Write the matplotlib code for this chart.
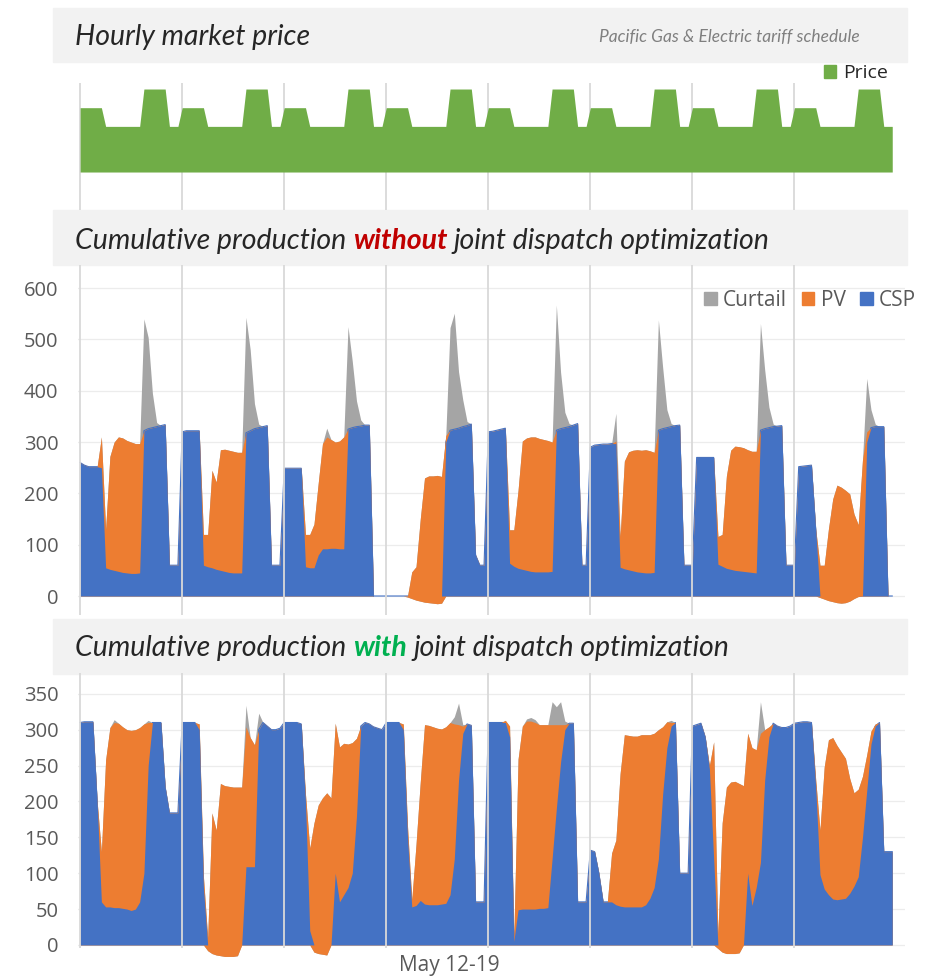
import numpy as np
import matplotlib.pyplot as plt
from matplotlib.patches import Patch, Rectangle

W, H = 931, 976

# hourly tariff, 8 days x 24 h ($/kWh)
PRICE = [
    0.31, 0.31, 0.31, 0.31, 0.31, 0.31, 0.22, 0.22, 0.22, 0.22, 0.22, 0.22, 0.22, 0.22, 0.22, 0.40, 0.40, 0.40, 0.40, 0.40, 0.40, 0.22, 0.22, 0.22,
    0.31, 0.31, 0.31, 0.31, 0.31, 0.31, 0.22, 0.22, 0.22, 0.22, 0.22, 0.22, 0.22, 0.22, 0.22, 0.40, 0.40, 0.40, 0.40, 0.40, 0.40, 0.22, 0.22, 0.22,
    0.31, 0.31, 0.31, 0.31, 0.31, 0.31, 0.22, 0.22, 0.22, 0.22, 0.22, 0.22, 0.22, 0.22, 0.22, 0.40, 0.40, 0.40, 0.40, 0.40, 0.40, 0.22, 0.22, 0.22,
    0.31, 0.31, 0.31, 0.31, 0.31, 0.31, 0.22, 0.22, 0.22, 0.22, 0.22, 0.22, 0.22, 0.22, 0.22, 0.40, 0.40, 0.40, 0.40, 0.40, 0.40, 0.22, 0.22, 0.22,
    0.31, 0.31, 0.31, 0.31, 0.31, 0.31, 0.22, 0.22, 0.22, 0.22, 0.22, 0.22, 0.22, 0.22, 0.22, 0.40, 0.40, 0.40, 0.40, 0.40, 0.40, 0.22, 0.22, 0.22,
    0.31, 0.31, 0.31, 0.31, 0.31, 0.31, 0.22, 0.22, 0.22, 0.22, 0.22, 0.22, 0.22, 0.22, 0.22, 0.40, 0.40, 0.40, 0.40, 0.40, 0.40, 0.22, 0.22, 0.22,
    0.31, 0.31, 0.31, 0.31, 0.31, 0.31, 0.22, 0.22, 0.22, 0.22, 0.22, 0.22, 0.22, 0.22, 0.22, 0.40, 0.40, 0.40, 0.40, 0.40, 0.40, 0.22, 0.22, 0.22,
    0.31, 0.31, 0.31, 0.31, 0.31, 0.31, 0.22, 0.22, 0.22, 0.22, 0.22, 0.22, 0.22, 0.22, 0.22, 0.40, 0.40, 0.40, 0.40, 0.40, 0.40, 0.22, 0.22, 0.22,
]

# without joint dispatch optimization (MW)
CSP_WO = [
    260, 255, 252, 252, 252, 250, 55, 52, 50, 48, 46, 45, 44, 44, 45, 322, 326, 328, 330, 332, 334, 60, 60, 60,
    320, 322, 322, 322, 322, 60, 57, 55, 52, 50, 48, 46, 45, 45, 45, 318, 322, 326, 328, 330, 332, 60, 60, 60,
    249, 249, 249, 249, 249, 57, 55, 55, 80, 92, 92, 93, 93, 92, 92, 325, 328, 330, 331, 333, 333, 0, 0, 0,
    0, 0, 0, 0, 0, -2, -5, -8, -10, -12, -13, -14, -15, -14, 300, 323, 325, 327, 330, 332, 335, 80, 60, 60,
    320, 321, 323, 325, 327, 64, 58, 54, 52, 50, 48, 47, 47, 47, 47, 48, 323, 326, 328, 330, 333, 336, 60, 60,
    290, 294, 295, 296, 296, 297, 297, 56, 53, 51, 49, 47, 46, 45, 45, 46, 323, 326, 328, 330, 332, 333, 60, 60,
    60, 270, 270, 270, 270, 270, 62, 58, 54, 52, 50, 49, 48, 47, 46, 45, 323, 326, 328, 330, 331, 332, 60, 60,
    60, 252, 253, 254, 255, 130, -3, -6, -9, -11, -13, -14, -13, -10, -5, -1, 0, 300, 328, 330, 330, 330, 0, 0,
]
PV_WO = [
    0, 0, 0, 0, 0, 60, 75, 220, 250, 262, 262, 258, 256, 253, 252, 0, 0, 0, 0, 0, 0, 0, 0, 0,
    0, 0, 0, 0, 0, 60, 63, 190, 170, 235, 238, 238, 237, 235, 235, 0, 0, 0, 0, 0, 0, 0, 0, 0,
    0, 0, 0, 0, 0, 63, 65, 85, 140, 205, 218, 212, 207, 210, 218, 0, 0, 0, 0, 0, 0, 0, 0, 0,
    0, 0, 0, 0, 0, 2, 52, 65, 160, 242, 247, 248, 250, 247, 13, 0, 0, 0, 0, 0, 0, 0, 0, 0,
    0, 0, 0, 0, 0, 65, 71, 152, 250, 258, 262, 263, 260, 258, 256, 252, 0, 0, 0, 0, 0, 0, 0, 0,
    0, 0, 0, 0, 0, 0, 5, 60, 210, 230, 235, 238, 238, 240, 238, 234, 0, 0, 0, 0, 0, 0, 0, 0,
    0, 0, 0, 0, 0, 0, 54, 62, 180, 232, 242, 242, 241, 238, 236, 237, 0, 0, 0, 0, 0, 0, 0, 0,
    0, 0, 0, 0, 0, 0, 63, 66, 140, 200, 229, 226, 219, 209, 165, 140, 265, 20, 0, 0, 0, 0, 0, 0,
]
CUR_WO = [
    0, 0, 0, 0, 0, 0, 0, 0, 0, 0, 0, 0, 0, 0, 0, 218, 178, 67, 8, 0, 0, 0, 0, 0,
    0, 0, 0, 0, 0, 0, 0, 0, 0, 0, 0, 0, 0, 0, 0, 225, 158, 49, 7, 0, 0, 0, 0, 0,
    0, 0, 0, 0, 0, 0, 0, 0, 0, 0, 17, 0, 0, 0, 0, 200, 130, 50, 12, 0, 0, 0, 0, 0,
    0, 0, 0, 0, 0, 0, 0, 0, 0, 0, 0, 0, 0, 0, 0, 200, 226, 110, 52, 8, 0, 0, 0, 0,
    0, 0, 0, 0, 0, 0, 0, 0, 0, 0, 0, 0, 0, 0, 0, 0, 244, 110, 30, 6, 0, 0, 0, 0,
    0, 0, 0, 0, 0, 0, 54, 0, 0, 0, 0, 0, 0, 0, 0, 0, 215, 120, 35, 6, 0, 0, 0, 0,
    0, 0, 0, 0, 0, 0, 0, 0, 0, 0, 0, 0, 0, 0, 0, 0, 208, 115, 40, 5, 0, 0, 0, 0,
    0, 0, 0, 0, 0, 0, 0, 0, 0, 0, 0, 0, 0, 0, 0, 0, 0, 104, 35, 5, 0, 0, 0, 0,
]

# with joint dispatch optimization (MW)
CSP_W = [
    310, 311, 311, 311, 200, 60, 53, 53, 52, 52, 51, 50, 48, 50, 60, 100, 250, 310, 310, 310, 220, 184, 184, 184,
    310, 310, 310, 310, 300, 80, -8, -12, -14, -15, -16, -16, -16, -15, 0, 109, 109, 109, 300, 310, 305, 300, 300, 302,
    310, 310, 310, 310, 308, 200, 20, -10, -12, -13, -14, 0, 100, 60, 70, 80, 100, 180, 305, 310, 308, 304, 302, 300,
    310, 310, 310, 310, 300, 150, 53, 55, 62, 57, 56, 56, 56, 57, 58, 70, 120, 230, 295, 308, 306, 60, 60, 60,
    310, 310, 310, 310, 310, 290, 5, 49, 50, 50, 50, 50, 51, 51, 52, 120, 190, 255, 300, 309, 309, 60, 60, 60,
    132, 130, 100, 60, 60, 60, 56, 54, 53, 53, 53, 53, 53, 56, 65, 80, 120, 210, 275, 305, 310, 100, 100, 100,
    305, 307, 309, 290, 245, 120, -5, -10, -12, -12, -12, -11, 0, 100, 55, 80, 115, 230, 290, 309, 305, 303, 303, 305,
    309, 310, 311, 311, 310, 220, 98, 78, 70, 64, 63, 64, 65, 72, 82, 95, 150, 215, 280, 305, 310, 130, 130, 130,
]
PV_W = [
    0, 0, 0, 0, 0, 70, 205, 250, 258, 257, 253, 250, 251, 250, 243, 208, 60, 0, 0, 0, 0, 0, 0, 0,
    0, 0, 0, 0, 8, 15, 18, 196, 174, 240, 238, 237, 236, 235, 220, 195, 180, 170, 0, 0, 0, 0, 0, 0,
    0, 0, 0, 0, 0, 10, 115, 180, 207, 218, 226, 205, 209, 216, 211, 200, 182, 108, 0, 0, 0, 0, 0, 0,
    0, 0, 0, 0, 8, 15, 10, 85, 165, 250, 250, 248, 246, 244, 246, 240, 188, 77, 10, 0, 0, 0, 0, 0,
    0, 0, 0, 0, 3, 15, 5, 210, 255, 262, 262, 260, 256, 256, 255, 187, 117, 52, 7, 0, 0, 0, 0, 0,
    0, 0, 0, 0, 0, 68, 90, 185, 240, 239, 238, 238, 240, 237, 228, 215, 180, 94, 36, 5, 0, 0, 0, 0,
    0, 0, 0, 0, 5, 163, 20, 180, 232, 239, 240, 236, 222, 195, 220, 192, 180, 70, 14, 0, 0, 0, 0, 0,
    0, 0, 0, 0, 0, 10, 62, 170, 216, 225, 215, 205, 195, 160, 130, 122, 85, 50, 18, 3, 0, 0, 0, 0,
]
CUR_W = [
    0, 0, 0, 0, 0, 0, 0, 0, 4, 0, 0, 0, 0, 0, 0, 0, 3, 0, 0, 0, 0, 0, 0, 0,
    0, 0, 0, 0, 0, 0, 0, 0, 0, 0, 0, 0, 0, 0, 0, 30, 0, 0, 23, 0, 0, 0, 0, 0,
    0, 0, 0, 0, 0, 0, 0, 0, 0, 0, 0, 0, 0, 0, 0, 0, 0, 0, 0, 0, 0, 0, 0, 0,
    0, 0, 0, 0, 0, 0, 0, 0, 0, 0, 0, 0, 0, 0, 0, 0, 10, 30, 2, 0, 0, 0, 0, 0,
    0, 0, 0, 0, 0, 0, 0, 0, 0, 3, 5, 4, 0, 0, 0, 32, 25, 32, 5, 0, 0, 0, 0, 0,
    0, 0, 0, 0, 0, 0, 0, 0, 0, 0, 0, 0, 0, 0, 0, 0, 0, 0, 0, 3, 0, 0, 0, 0,
    0, 0, 0, 0, 0, 0, 0, 0, 0, 0, 0, 0, 0, 0, 0, 0, 44, 0, 0, 0, 0, 0, 0, 0,
    0, 0, 0, 0, 0, 0, 0, 0, 0, 0, 0, 0, 0, 0, 0, 0, 0, 0, 0, 0, 0, 0, 0, 0,
]

BLUE, ORANGE, GRAY, GREEN = '#4472c4', '#ed7d31', '#a5a5a5', '#70ad47'
TXT = '#595959'
TICK_FONT = 'Open Sans'
HEAD_FONT = 'Lato'

hours = np.arange(len(PRICE))
day_starts = hours[::24]
XLIM = (-0.5, 194)

fig = plt.figure(figsize=(W / 100, H / 100), dpi=100)


def box(left, top, right, bottom):
    return [left / W, 1 - bottom / H, (right - left) / W, (bottom - top) / H]


def band(top, bottom):
    fig.add_artist(Rectangle((53 / W, 1 - bottom / H), (907 - 53) / W, (bottom - top) / H,
                             transform=fig.transFigure, color='#f2f2f2', zorder=0))


def header(y, parts, size=20.5):
    r = fig.canvas.get_renderer()
    probe = fig.text(0, 0, 'a a', family=HEAD_FONT, style='italic', size=size)
    probe2 = fig.text(0, 0, 'aa', family=HEAD_FONT, style='italic', size=size)
    space = probe.get_window_extent(r).width - probe2.get_window_extent(r).width
    probe.remove()
    probe2.remove()
    x = 75
    for i, (s, color, weight) in enumerate(parts):
        t = fig.text(x / W, 1 - y / H, s, family=HEAD_FONT, style='italic', weight=weight,
                     size=size, color=color, va='center', ha='left')
        x += t.get_window_extent(r).width + (space if i < len(parts) - 1 else 0)


def stacked(ax, csp, pv, cur):
    csp, pv, cur = np.array(csp, float), np.array(pv, float), np.array(cur, float)
    base = np.minimum(csp, 0)
    ax.fill_between(hours, base, csp + pv + cur, color=GRAY, lw=0, zorder=2)
    ax.plot(hours, np.clip(csp, 0, None), color=BLUE, lw=0.8, zorder=2.5)
    ax.fill_between(hours, base, csp + pv, color=ORANGE, lw=0, zorder=3)
    ax.fill_between(hours, 0, np.clip(csp, 0, None), color=BLUE, lw=0, zorder=4)


def style_axis(ax, ticks):
    ax.set_facecolor('none')
    for s in ax.spines.values():
        s.set_visible(False)
    ax.set_xlim(*XLIM)
    ax.set_xticks([])
    ax.set_yticks(ticks)
    ax.tick_params(axis='y', length=0, pad=14, labelsize=14.5, labelcolor=TXT)
    for lab in ax.get_yticklabels():
        lab.set_family(TICK_FONT)
    ax.yaxis.grid(True, color='#ececec', lw=0.9)
    ax.set_axisbelow(True)


# top: price
band(8, 62)
header(37, [('Hourly market price', '#262626', 'normal')])
fig.text(860 / W, 1 - 37 / H, 'Pacific Gas & Electric tariff schedule', family=HEAD_FONT,
         style='italic', size=12.5, color='#7f7f7f', ha='right', va='center')
ax1 = fig.add_axes(box(78, 83, 905, 210))
ax1.set_facecolor('none')
for s in ax1.spines.values():
    s.set_visible(False)
ax1.fill_between(hours, 0, PRICE, color=GREEN, lw=0, zorder=2)
for d in day_starts:
    ax1.axvline(d, color='#d9d9d9', lw=1.3, zorder=1)
ax1.set_xlim(*XLIM)
ax1.set_ylim(-0.183, 0.429)
ax1.set_xticks([])
ax1.set_yticks([])
fig.legend(handles=[Patch(color=GREEN, label='Price')], loc='center right',
           bbox_to_anchor=(888 / W, 1 - 73 / H), frameon=False, handlelength=0.65,
           handleheight=0.65, handletextpad=0.35, borderpad=0, borderaxespad=0,
           prop={'family': TICK_FONT, 'size': 14}, labelcolor='#262626')

# middle: without optimization
band(210, 265)
header(241, [('Cumulative production', '#262626', 'normal'), ('without', '#c00000', 'bold'),
             ('joint dispatch optimization', '#262626', 'normal')])
ax2 = fig.add_axes(box(78, 265, 905, 615))
stacked(ax2, CSP_WO, PV_WO, CUR_WO)
for d in day_starts:
    ax2.axvline(d, color='#d9d9d9', lw=1.3, zorder=5)
style_axis(ax2, np.arange(0, 601, 100))
ax2.set_ylim(-37, 645)
fig.legend(handles=[Patch(color=GRAY, label='Curtail'), Patch(color=ORANGE, label='PV'),
                    Patch(color=BLUE, label='CSP')],
           loc='center right', bbox_to_anchor=(916 / W, 1 - 300 / H), ncol=3, frameon=False,
           handlelength=0.6, handleheight=0.6, handletextpad=0.3, columnspacing=0.7,
           borderpad=0, borderaxespad=0, prop={'family': TICK_FONT, 'size': 15},
           labelcolor=TXT)

# bottom: with optimization
band(619, 674)
header(648, [('Cumulative production', '#262626', 'normal'), ('with', '#00b050', 'bold'),
             ('joint dispatch optimization', '#262626', 'normal')])
ax3 = fig.add_axes(box(78, 673, 905, 960))
stacked(ax3, CSP_W, PV_W, CUR_W)
style_axis(ax3, np.arange(0, 351, 50))
ax3.set_ylim(-21, 379)
ax3.vlines(day_starts, -4, 379, color='#d9d9d9', lw=1.3, zorder=5)
fig.text(449 / W, 1 - 965 / H, 'May 12-19', family=TICK_FONT, size=15, color=TXT,
         ha='center', va='center')

fig.savefig('out.png', dpi=100)
